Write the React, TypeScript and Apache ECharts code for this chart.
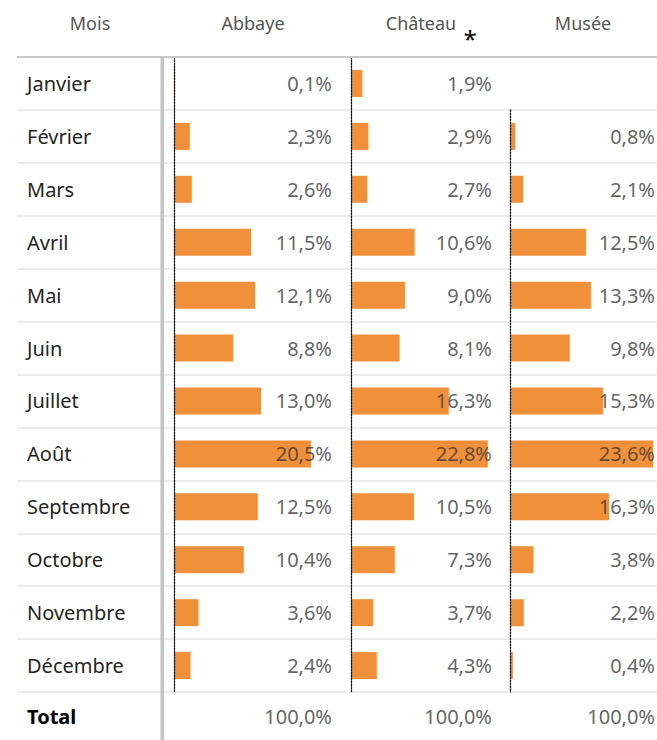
import React, { useEffect, useRef } from "react";
import * as echarts from "echarts";

const months = ["Janvier", "Février", "Mars", "Avril", "Mai", "Juin", "Juillet", "Août", "Septembre", "Octobre", "Novembre", "Décembre"];
const columns = ["Abbaye", "Château", "Musée"];
const abbaye = [0.1, 2.3, 2.6, 11.5, 12.1, 8.8, 13.0, 20.5, 12.5, 10.4, 3.6, 2.4];
const chateau = [1.9, 2.9, 2.7, 10.6, 9.0, 8.1, 16.3, 22.8, 10.5, 7.3, 3.7, 4.3];
const musee: (number | null)[] = [null, 0.8, 2.1, 12.5, 13.3, 9.8, 15.3, 23.6, 16.3, 3.8, 2.2, 0.4];
const totals = [100.0, 100.0, 100.0];
const headerFirst = "Mois";
const totalLabel = "Total";

const FONT = "Noto Sans";
const TOP = 57;
const ROW = 52.92;
const BAR = "#F0903A";
const colLayout = [
  { left: 174.5, right: 332, max: 23.65, head: 253 },
  { left: 351, right: 492, max: 23.5, head: 421 },
  { left: 510.5, right: 655, max: 23.9, head: 583 },
];

const fmt = (v: number) => v.toFixed(1).replace(".", ",") + "%";

export default function App() {
  const ref = useRef<HTMLDivElement>(null);
  useEffect(() => {
    if (!ref.current) return;
    const chart = echarts.init(ref.current, undefined, { renderer: "svg" });
    const series = [abbaye, chateau, musee as (number | null)[]];

    const grids: any[] = [];
    const xAxes: any[] = [];
    const yAxes: any[] = [];
    const ser: any[] = [];

    // background grid: month labels + row separators
    grids.push({ left: 17, width: 640, top: TOP, height: ROW * 12 });
    xAxes.push({ type: "value", gridIndex: 0, show: false });
    yAxes.push({
      type: "category", gridIndex: 0, data: months, inverse: true,
      axisLine: { show: false }, axisTick: { show: false },
      splitLine: { show: true, lineStyle: { color: "#e6e6e6", width: 1.5 } },
      axisLabel: { inside: true, margin: 10, fontSize: 20, color: "#252423", fontFamily: FONT },
    });

    // total background grid
    grids.push({ left: 17, width: 640, top: TOP + ROW * 12, height: ROW });
    xAxes.push({ type: "value", gridIndex: 1, show: false });
    yAxes.push({
      type: "category", gridIndex: 1, data: [totalLabel], inverse: true,
      axisLine: { show: false }, axisTick: { show: false },
      axisLabel: { inside: true, margin: 10, fontSize: 20, fontWeight: "bold", color: "#000", fontFamily: FONT },
    });

    colLayout.forEach((c, i) => {
      const vals = series[i];
      const start = vals.findIndex((v) => v != null);
      const cats = months.slice(start);
      const data = vals.slice(start);
      const gi = grids.length;
      grids.push({ left: c.left, width: c.right - c.left, top: TOP + ROW * start, height: ROW * cats.length });
      xAxes.push({ type: "value", gridIndex: gi, min: 0, max: c.max, show: false });
      yAxes.push({
        type: "category", gridIndex: gi, data: cats, inverse: true, z: 3,
        axisLine: { show: true, lineStyle: { color: "#111", type: [1.5, 1.5], width: 1.3 } },
        axisTick: { show: false }, axisLabel: { show: false }, splitLine: { show: false },
      });
      ser.push({
        type: "bar", xAxisIndex: gi, yAxisIndex: gi, data, barWidth: 27,
        itemStyle: { color: BAR }, silent: true,
      });
      ser.push({
        type: "scatter", xAxisIndex: gi, yAxisIndex: gi, symbolSize: 0, silent: true, z: 5,
        data: data.map((v, k) => (v == null ? null : [c.max, cats[k]])),
        label: {
          show: true, position: "left", distance: 0, fontSize: 20, color: "#3a3a3a", fontFamily: FONT,
          formatter: (p: any) => fmt(data[p.dataIndex] as number),
        },
      });

      // totals
      const ti = grids.length;
      grids.push({ left: c.left, width: c.right - c.left, top: TOP + ROW * 12, height: ROW });
      xAxes.push({ type: "value", gridIndex: ti, min: 0, max: c.max, show: false });
      yAxes.push({ type: "category", gridIndex: ti, data: [totalLabel], inverse: true, show: false });
      ser.push({
        type: "scatter", xAxisIndex: ti, yAxisIndex: ti, symbolSize: 0, silent: true,
        data: [[c.max, totalLabel]],
        label: {
          show: true, position: "left", distance: 0, fontSize: 20, color: "#3a3a3a", fontFamily: FONT,
          formatter: () => fmt(totals[i]),
        },
      });
    });

    const graphic: any[] = [
      { type: "line", shape: { x1: 17, y1: TOP, x2: 657, y2: TOP }, style: { stroke: "#c8c8c8", lineWidth: 2 }, z: 10 },
      { type: "rect", shape: { x: 160.5, y: TOP, width: 3.5, height: 740 - TOP }, style: { fill: "#c4c4c4" }, z: 10 },
      { type: "text", x: 90, y: 23, style: { text: headerFirst, align: "center", verticalAlign: "middle", fontSize: 18, fill: "#555", fontFamily: FONT } },
      ...columns.map((name, i) => ({
        type: "text", x: colLayout[i].head, y: 23,
        style: { text: name, align: "center", verticalAlign: "middle", fontSize: 18, fill: "#555", fontFamily: FONT },
      })),
      { type: "text", x: 470, y: 38, style: { text: "*", align: "center", verticalAlign: "middle", fontSize: 24, fill: "#000", fontFamily: FONT } },
    ];

    chart.setOption({
      animation: false,
      backgroundColor: "#fff",
      grid: grids,
      xAxis: xAxes,
      yAxis: yAxes,
      series: ser,
      graphic,
    });
    return () => chart.dispose();
  }, []);
  return <div ref={ref} style={{ width: 657, height: 740, position: "absolute", left: 0, top: 0 }} />;
}
